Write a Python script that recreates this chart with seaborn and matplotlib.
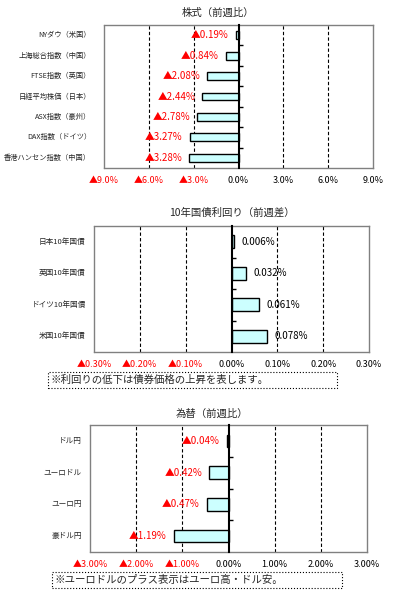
import matplotlib.pyplot as plt
import matplotlib.patches as mpatches
import seaborn as sns
import pandas as pd

sns.set_style('white')
plt.rcParams['font.family'] = ['Noto Sans CJK JP', 'DejaVu Sans']

# data
stk_names = ['NYダウ（米国）', '上海総合指数（中国）', 'FTSE指数（英国）', '日経平均株価（日本）',
             'ASX指数（豪州）', 'DAX指数（ドイツ）', '香港ハンセン指数（中国）']
stk_vals = [-0.19, -0.84, -2.08, -2.44, -2.78, -3.27, -3.28]
stk_ticks = [-9, -6, -3, 0, 3, 6, 9]

bond_names = ['日本10年国債', '英国10年国債', 'ドイツ10年国債', '米国10年国債']
bond_vals = [0.006, 0.032, 0.061, 0.078]
bond_ticks = [-0.3, -0.2, -0.1, 0, 0.1, 0.2, 0.3]

fx_names = ['ドル円', 'ユーロドル', 'ユーロ円', '豪ドル円']
fx_vals = [-0.04, -0.42, -0.47, -1.19]
fx_ticks = [-3, -2, -1, 0, 1, 2, 3]

RED = '#FF0000'
GREY = '#808080'


def pct(v, d):  # ▲ for minus
    return ('▲' if v < 0 else '') + f'{abs(v):.{d}f}%'


def panel(fig, rect, names, vals, ticks, dec, tdec, bw, lpad, nfs):
    ax = fig.add_axes(rect)
    df = pd.DataFrame({'name': names, 'val': vals})
    sns.barplot(data=df, x='val', y='name', orient='h', color='#CCFFFF', saturation=1,
                edgecolor='black', linewidth=1.0, width=bw, ax=ax)
    lim = ticks[-1]
    ax.set_xlim(-lim, lim)
    ax.set_xlabel('')
    ax.set_ylabel('')

    # dashed grid
    for t in ticks:
        if t != 0 and abs(t) != lim:
            ax.axvline(t, color='black', ls=(0, (3, 2)), lw=0.8, zorder=0)

    # frame
    for s in ['top', 'right', 'bottom']:
        ax.spines[s].set_color(GREY)
        ax.spines[s].set_linewidth(1)
    ax.axvline(-lim, color=GREY, lw=1, clip_on=False)
    ax.spines['left'].set_position(('data', 0))
    ax.spines['left'].set_color('black')
    ax.spines['left'].set_linewidth(1.5)
    ax.spines['left'].set_zorder(5)

    # y ticks between categories
    ax.set_yticks([])
    ax.set_yticks([i + 0.5 for i in range(len(names) - 1)], minor=True)
    ax.tick_params(axis='y', which='minor', direction='in', length=3, left=True,
                   color='black', width=1)
    for i, n in enumerate(names):
        ax.text(-lpad, i, n, transform=ax.get_yaxis_transform(), ha='right', va='center',
                fontsize=nfs)

    # x ticks
    ax.set_xticks(ticks)
    ax.set_xticklabels([pct(t, tdec) for t in ticks])
    ax.tick_params(axis='x', length=0, pad=6, labelsize=6.5)
    for lab, t in zip(ax.get_xticklabels(), ticks):
        lab.set_color(RED if t < 0 else 'black')

    # value labels
    for i, v in enumerate(vals):
        ax.annotate(pct(v, dec), (v, i), xytext=(-5 if v < 0 else 5, 0),
                    textcoords='offset points', ha='right' if v < 0 else 'left',
                    va='center', color=RED if v < 0 else 'black', fontsize=7)
    return ax


fig = plt.figure(figsize=(3.99, 6.04), dpi=100)

panel(fig, [104 / 399, 1 - 168 / 604, 269 / 399, 143 / 604], stk_names, stk_vals,
      stk_ticks, 2, 1, 0.38, 0.048, 5.2)
panel(fig, [94 / 399, 1 - 352 / 604, 275 / 399, 126 / 604], bond_names, bond_vals,
      bond_ticks, 3, 2, 0.4, 0.03, 5.5)
panel(fig, [90 / 399, 1 - 552 / 604, 277 / 399, 127 / 604], fx_names, fx_vals,
      fx_ticks, 2, 2, 0.4, 0.03, 5.5)

fig.text(218 / 399, 1 - 13 / 604, '株式（前週比）', ha='center', va='center', fontsize=7.5)
fig.text(232 / 399, 1 - 213 / 604, '10年国債利回り（前週差）', ha='center', va='center', fontsize=7.5)
fig.text(212 / 399, 1 - 414 / 604, '為替（前週比）', ha='center', va='center', fontsize=7.5)

# note boxes
for x0, y0, w, txt in [(48, 388, 289, '※利回りの低下は債券価格の上昇を表します。'),
                       (52, 588, 290, '※ユーロドルのプラス表示はユーロ高・ドル安。')]:
    fig.add_artist(mpatches.Rectangle((x0 / 399, 1 - y0 / 604), w / 399, 16 / 604,
                                      transform=fig.transFigure, fill=False,
                                      ls=':', lw=0.8, ec='black'))
    fig.text((x0 + 2) / 399, 1 - (y0 - 8) / 604, txt, ha='left', va='center', fontsize=7.5)

plt.savefig('out.png', dpi=100)
plt.close()
